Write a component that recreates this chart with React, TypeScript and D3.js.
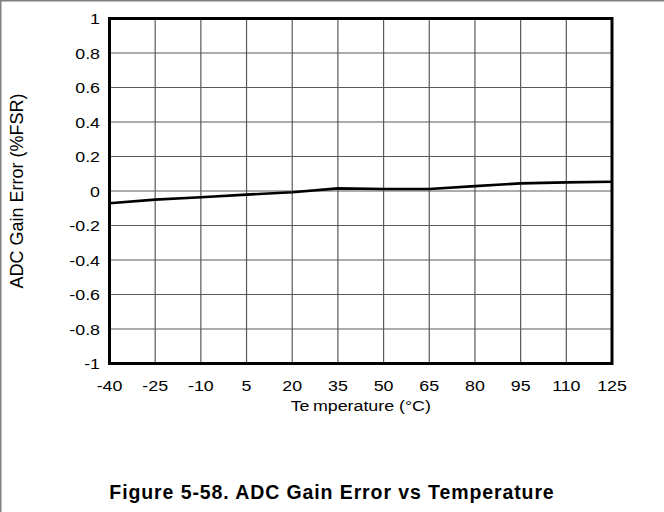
import React from "react";
import * as d3 from "d3";

const temperatures = [-40, -25, -10, 5, 20, 35, 50, 65, 80, 95, 110, 125];
const gainError = [-0.071, -0.05, -0.036, -0.021, -0.007, 0.015, 0.012, 0.012, 0.028, 0.044, 0.05, 0.054];
const xTicks = [-40, -25, -10, 5, 20, 35, 50, 65, 80, 95, 110, 125];
const yTicks = [-1, -0.8, -0.6, -0.4, -0.2, 0, 0.2, 0.4, 0.6, 0.8, 1];

const W = 664;
const H = 512;
const left = 109.5;
const right = 612;
const top = 18.5;
const bottom = 363.5;
const font = "'Liberation Sans', Arial, sans-serif";
const SX = 1.15;

function T({ x, y, anchor, size, children, weight }: any) {
  return (
    <text
      transform={`translate(${x},${y}) scale(${SX},1)`}
      textAnchor={anchor}
      fontSize={size}
      fontWeight={weight || "normal"}
      fill="#000"
    >
      {children}
    </text>
  );
}

export default function App() {
  const x = d3.scaleLinear().domain([-40, 125]).range([left, right]);
  const y = d3.scaleLinear().domain([-1, 1]).range([bottom, top]);
  const line = d3
    .line<number>()
    .x((_, i) => x(temperatures[i]))
    .y((d) => y(d));
  const fmt = (v: number) => (v === 0 ? "0" : String(+v.toFixed(1)));

  return (
    <svg
      width={W}
      height={H}
      style={{ position: "absolute", left: 0, top: 0, background: "#fff" }}
      fontFamily={font}
    >
      <rect x={0} y={0} width={W} height={H} fill="#fff" />
      <line x1={0} y1={0.75} x2={W} y2={0.75} stroke="#808080" strokeWidth={1.5} />
      <line x1={0.75} y1={0} x2={0.75} y2={H} stroke="#808080" strokeWidth={1.5} />

      {xTicks.slice(1, -1).map((t) => (
        <line key={"vx" + t} x1={x(t)} x2={x(t)} y1={top} y2={bottom} stroke="#5a5a5a" strokeWidth={1.2} />
      ))}
      {yTicks.slice(1, -1).map((t) => (
        <line key={"hy" + t} x1={left} x2={right} y1={y(t)} y2={y(t)} stroke="#5a5a5a" strokeWidth={1.2} />
      ))}

      <path d={line(gainError) || ""} fill="none" stroke="#000" strokeWidth={2.6} strokeLinejoin="round" />

      <rect x={left} y={top} width={right - left} height={bottom - top} fill="none" stroke="#000" strokeWidth={3} />

      {yTicks.map((t) => (
        <T key={"yt" + t} x={100} y={y(t) + 5.6} anchor="end" size={15.5}>
          {fmt(t)}
        </T>
      ))}
      {xTicks.map((t) => (
        <T key={"xt" + t} x={x(t)} y={391} anchor="middle" size={15.5}>
          {t}
        </T>
      ))}

      <T x={(left + right) / 2} y={411} anchor="middle" size={15.5}>
        <tspan>Te</tspan>
        <tspan dx={3}>mperature (°C)</tspan>
      </T>
      <text
        transform={`translate(23,${(top + bottom) / 2}) rotate(-90)`}
        textAnchor="middle"
        fontSize={18}
        fill="#000"
      >
        ADC Gain Error (%FSR)
      </text>

      <text x={W / 2} y={499} textAnchor="middle" fontSize={19.5} letterSpacing={0.9} fontWeight="bold" fill="#000">
        Figure 5-58. ADC Gain Error vs Temperature
      </text>
    </svg>
  );
}
